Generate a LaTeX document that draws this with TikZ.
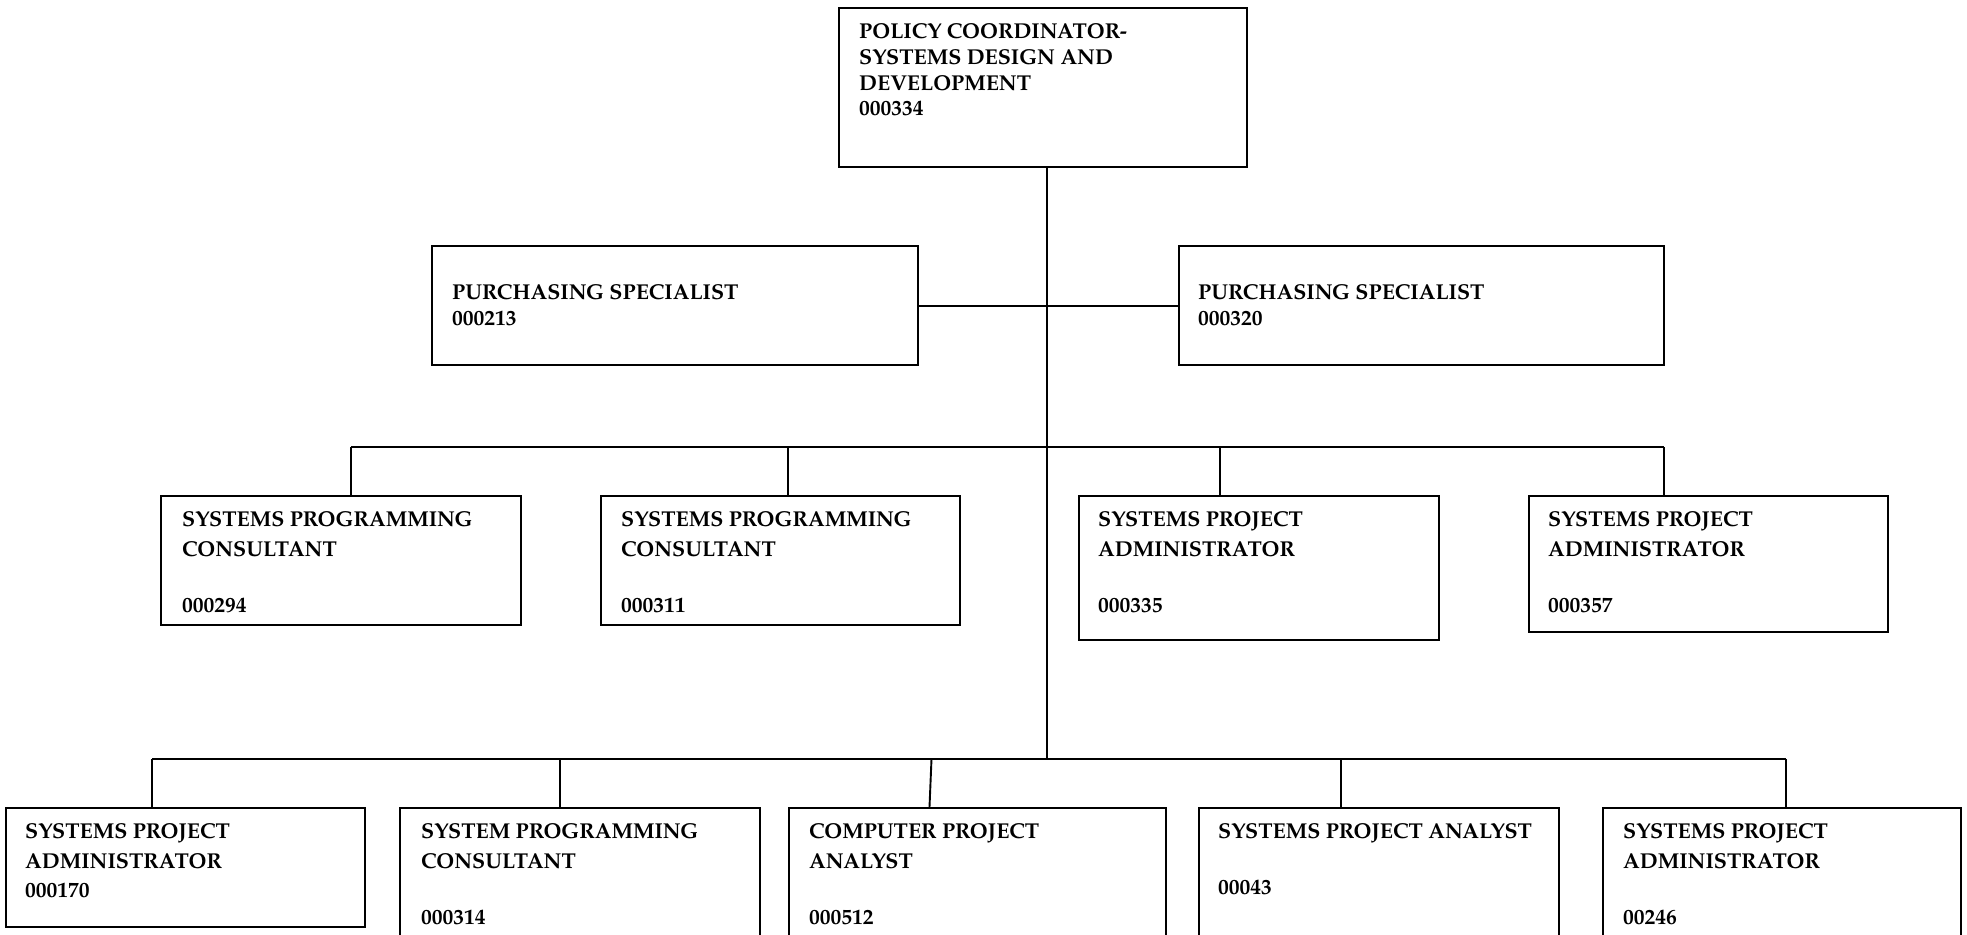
\documentclass[tikz,border=0pt]{standalone}
\usepackage{fontspec}
\setmainfont{texgyrepagella-regular.otf}[BoldFont=texgyrepagella-bold.otf]
\begin{document}
\begin{tikzpicture}[x=1pt,y=-1pt,
  box/.style={draw=black,line width=2.3pt,fill=white,inner sep=0pt,anchor=north west},
  wire/.style={draw=black,line width=1.9pt},
  txt/.style={inner sep=0pt,anchor=base west,font=\bfseries\fontsize{21.5}{25}\selectfont}]
\useasboundingbox (0,0) rectangle (1967,934);
\clip (0,0) rectangle (1967,934);

% connector points on the buses
\coordinate (j3) at (1047,759);
\coordinate (b2l) at (351,447);
\coordinate (b2m) at (788,447);
\coordinate (b2c) at (1220,447);
\coordinate (b2r) at (1664,447);
\coordinate (b3l) at (152,759);
\coordinate (b3b) at (560,759);
\coordinate (b3c) at (931.5,759);
\coordinate (b3d) at (1341,759);
\coordinate (b3r) at (1786,759);

% boxes
\node[box,minimum width=408,minimum height=159] (top) at (838,7) {};
\node[box,minimum width=486,minimum height=119] (ps1) at (431,245) {};
\node[box,minimum width=485,minimum height=119] (ps2) at (1178,245) {};
\node[box,minimum width=360,minimum height=129] (a2) at (160,495) {};
\node[box,minimum width=359,minimum height=129] (b2) at (600,495) {};
\node[box,minimum width=360,minimum height=144] (c2) at (1078,495) {};
\node[box,minimum width=359,minimum height=136] (d2) at (1528,495) {};
\node[box,minimum width=359,minimum height=119] (a3) at (5,807) {};
\node[box,minimum width=360,minimum height=160] (b3) at (399,807) {};
\node[box,minimum width=377,minimum height=160] (c3) at (788,807) {};
\node[box,minimum width=360,minimum height=160] (d3) at (1198,807) {};
\node[box,minimum width=358,minimum height=160] (e3) at (1602,807) {};

% connectors
\draw[wire] (top.south -| j3) -- (j3);
\draw[wire] (ps1.east) -- (ps2.west);
\draw[wire] (b2l) -- (b2r);
\draw[wire] (b2l) -- (b2l |- a2.north);
\draw[wire] (b2m) -- (b2m |- b2.north);
\draw[wire] (b2c) -- (b2c |- c2.north);
\draw[wire] (b2r) -- (b2r |- d2.north);
\draw[wire] (b3l) -- (b3r);
\draw[wire] (b3l) -- (b3l |- a3.north);
\draw[wire] (b3b) -- (b3b |- b3.north);
\draw[wire] (b3c) -- ([xshift=-2pt]b3c |- c3.north);
\draw[wire] (b3d) -- (b3d |- d3.north);
\draw[wire] (b3r) -- (b3r |- e3.north);

% labels
\node[txt] (top-1) at (859,39) {POLICY COORDINATOR-};
\node[txt] (top-2) at (859,65) {SYSTEMS DESIGN AND};
\node[txt] (top-3) at (859,90) {DEVELOPMENT};
\node[txt] (top-4) at (859,115) {000334};

\node[txt] (ps1-1) at (452,299) {PURCHASING SPECIALIST};
\node[txt] (ps1-2) at (452,325) {000213};
\node[txt] (ps2-1) at (1198,299) {PURCHASING SPECIALIST};
\node[txt] (ps2-2) at (1198,325) {000320};

\node[txt] (a2-1) at (182,526) {SYSTEMS PROGRAMMING};
\node[txt] (a2-2) at (182,556) {CONSULTANT};
\node[txt] (a2-3) at (182,612) {000294};
\node[txt] (b2-1) at (621,526) {SYSTEMS PROGRAMMING};
\node[txt] (b2-2) at (621,556) {CONSULTANT};
\node[txt] (b2-3) at (621,612) {000311};
\node[txt] (c2-1) at (1098,526) {SYSTEMS PROJECT};
\node[txt] (c2-2) at (1098,556) {ADMINISTRATOR};
\node[txt] (c2-3) at (1098,612) {000335};
\node[txt] (d2-1) at (1548,526) {SYSTEMS PROJECT};
\node[txt] (d2-2) at (1548,556) {ADMINISTRATOR};
\node[txt] (d2-3) at (1548,612) {000357};

\node[txt] (a3-1) at (25,838) {SYSTEMS PROJECT};
\node[txt] (a3-2) at (25,868) {ADMINISTRATOR};
\node[txt] (a3-3) at (25,897) {000170};
\node[txt] (b3-1) at (421,838) {SYSTEM PROGRAMMING};
\node[txt] (b3-2) at (421,868) {CONSULTANT};
\node[txt] (b3-3) at (421,924) {000314};
\node[txt] (c3-1) at (809,838) {COMPUTER PROJECT};
\node[txt] (c3-2) at (809,868) {ANALYST};
\node[txt] (c3-3) at (809,924) {000512};
\node[txt] (d3-1) at (1218,838) {SYSTEMS PROJECT ANALYST};
\node[txt] (d3-2) at (1218,894) {00043};
\node[txt] (e3-1) at (1623,838) {SYSTEMS PROJECT};
\node[txt] (e3-2) at (1623,868) {ADMINISTRATOR};
\node[txt] (e3-3) at (1623,924) {00246};
\end{tikzpicture}
\end{document}
